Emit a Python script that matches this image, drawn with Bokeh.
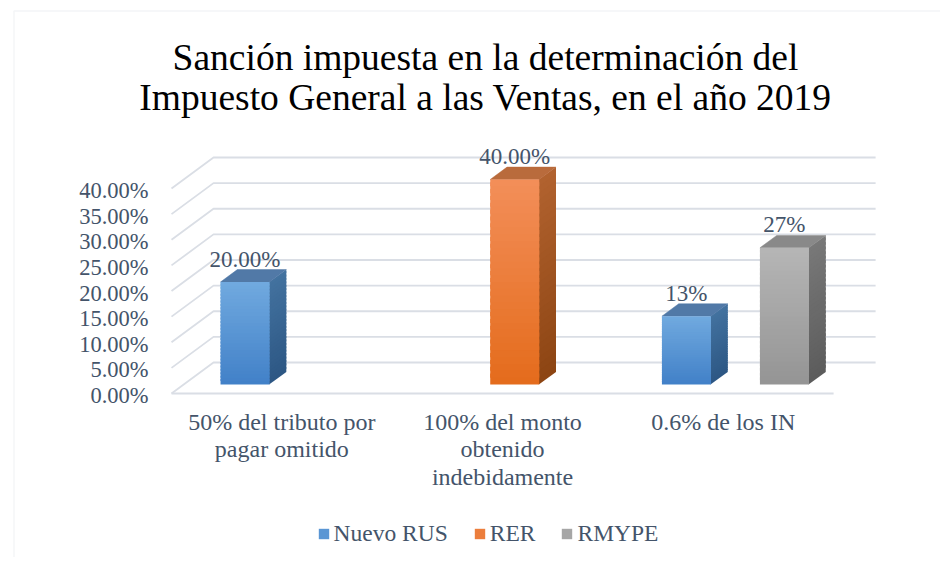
from bokeh.plotting import figure
from bokeh.models import Legend, LegendItem, BoxAnnotation, Range1d, ColumnDataSource
from bokeh.embed import file_html
from bokeh.resources import INLINE
from bokeh.core.properties import value

# ---------------- data ----------------
title_lines = ["Sanción impuesta en la determinación del",
               "Impuesto General a las Ventas, en el año 2019"]
categories = ["50% del tributo por\npagar omitido",
              "100% del monto\nobtenido\nindebidamente",
              "0.6% de los IN"]
series_names = ["Nuevo RUS", "RER", "RMYPE"]
nuevo_rus = [0.20, None, 0.1333]
rer = [None, 0.40, None]
rmype = [None, None, 0.2667]
nuevo_rus_labels = ["20.00%", None, "13%"]
rer_labels = [None, "40.00%", None]
rmype_labels = [None, None, "27%"]
y_ticks = [0.0, 0.05, 0.10, 0.15, 0.20, 0.25, 0.30, 0.35, 0.40]
y_tick_labels = ["0.00%", "5.00%", "10.00%", "15.00%", "20.00%",
                 "25.00%", "30.00%", "35.00%", "40.00%"]

# ---------------- style / layout ----------------
FONT = "Liberation Serif"
TXT = "#44546a"
GRID = "#dadee5"
# (front top, front bottom, side top, side bottom, top face, legend)
PALETTE = [
    ("#70a9df", "#4281c8", "#43729f", "#2d5784", "#5179a7", "#5b9bd5"),
    ("#f38e58", "#e46c1d", "#b1622f", "#8d4513", "#b96b3c", "#ed7d31"),
    ("#b5b5b5", "#959595", "#787878", "#5c5c5c", "#898989", "#a5a5a5"),
]
W, H = 940, 557
OFF_X, OFF_Y = 0, 0          # page offset of the figure
X0_PX, Y0_PX = 171, 393      # pixel position of the front-left floor corner
PX_CAT = 220.7               # pixels per category
PX_Y = 512.5                 # pixels per unit (100%)
DX = 42 / PX_CAT             # depth offset (x) of the floor
DY = 31 / PX_Y               # depth offset (y) of the floor
D0, D1 = 0.29, 0.69          # bar front/back depth
BW = 49 / PX_CAT             # bar width
N = 30                       # gradient slices


def sx2d(sx):
    return (sx - X0_PX) / PX_CAT


def sy2d(sy):
    return (Y0_PX - sy) / PX_Y


def hex2rgb(h):
    h = h.lstrip("#")
    return [int(h[i:i + 2], 16) for i in (0, 2, 4)]


def lerp(c1, c2, t):
    a, b = hex2rgb(c1), hex2rgb(c2)
    return "#%02x%02x%02x" % tuple(int(round(a[i] + (b[i] - a[i]) * t)) for i in range(3))


p = figure(width=W, height=H, output_backend="svg", toolbar_location=None,
           x_range=Range1d(sx2d(OFF_X), sx2d(OFF_X + W)),
           y_range=Range1d(sy2d(OFF_Y + H), sy2d(OFF_Y)),
           x_axis_type=None, y_axis_type=None,
           min_border=0)
p.title.visible = False
p.xgrid.visible = False
p.ygrid.visible = False
p.outline_line_color = None
p.background_fill_color = "white"
p.border_fill_color = "white"

# ---------- chart border ----------
p.add_layout(BoxAnnotation(left=sx2d(13.5), right=sx2d(1000), top=sy2d(10.5), bottom=sy2d(700),
                           fill_alpha=0, line_color=GRID, line_width=1.5))

# ---------- back wall / floor gridlines ----------
ncat = len(categories)
gx, gy = [], []
for t in y_ticks:
    gx.append([0, DX, ncat + DX])
    gy.append([t, t + DY, t + DY])
gx.append([0, ncat])
gy.append([y_ticks[0], y_ticks[0]])
p.multi_line(xs=gx, ys=gy, line_color=GRID, line_width=1.8)

# y tick labels (front plane)
p.text(x=[0] * len(y_ticks), y=y_ticks, text=y_tick_labels, text_font=value(FONT),
       text_font_size="22.5px", text_color=TXT, text_align="right",
       text_baseline="middle", x_offset=-23, y_offset=2)

# category labels
p.text(x=[i + 0.5 for i in range(ncat)], y=[0] * ncat, text=categories,
       text_font=value(FONT), text_font_size="24px", text_color=TXT,
       text_align="center", text_baseline="top", text_line_height=1.07, y_offset=15)

# ---------- 3D bars ----------
all_series = [(nuevo_rus, nuevo_rus_labels), (rer, rer_labels), (rmype, rmype_labels)]
offsets = [-BW, 0.0, BW]
lab_x, lab_y, lab_t = [], [], []
legend_items = []
for s_idx, (vals, labs) in enumerate(all_series):
    ft, fb, st, sb, tp, lc = PALETTE[s_idx]
    front = dict(left=[], right=[], top=[], bottom=[], color=[])
    side = dict(xs=[], ys=[], color=[])
    top = dict(xs=[], ys=[])
    for c_idx, v in enumerate(vals):
        if v is None:
            continue
        cx = c_idx + 0.5 + offsets[s_idx]
        xl0 = cx - BW / 2 + D0 * DX
        xr0 = cx + BW / 2 + D0 * DX
        yb0 = D0 * DY
        yt0 = v + D0 * DY
        ddx = (D1 - D0) * DX
        ddy = (D1 - D0) * DY
        step = (yt0 - yb0) / N
        for i in range(N):
            y_lo = yb0 + step * i
            y_hi = yb0 + step * (i + 1) + (step * 0.6 if i < N - 1 else 0)
            tt = i / (N - 1)
            front["left"].append(xl0)
            front["right"].append(xr0)
            front["bottom"].append(y_lo)
            front["top"].append(y_hi)
            front["color"].append(lerp(fb, ft, tt))
            side["xs"].append([xr0 - 0.002, xr0 + ddx, xr0 + ddx, xr0 - 0.002])
            side["ys"].append([y_lo, y_lo + ddy, y_hi + ddy, y_hi])
            side["color"].append(lerp(sb, st, tt))
        top["xs"].append([xl0, xr0, xr0 + ddx, xl0 + ddx])
        top["ys"].append([yt0, yt0, yt0 + ddy, yt0 + ddy])
        lab_x.append((xl0 + xr0) / 2)
        lab_y.append(yt0)
        lab_t.append(labs[c_idx])
    p.patches(xs="xs", ys="ys", source=ColumnDataSource(side),
              fill_color="color", line_color=None)
    p.patches(xs=top["xs"], ys=top["ys"], fill_color=tp, line_color=tp, line_width=0.5)
    fr = p.quad(left="left", right="right", top="top", bottom="bottom",
                source=ColumnDataSource(front), fill_color="color", line_color=None)
    legend_items.append(LegendItem(label=series_names[s_idx], renderers=[fr], index=N // 2))

# data labels
p.text(x=lab_x, y=lab_y, text=lab_t, text_font=value(FONT), text_font_size="23px",
       text_color=TXT, text_align="center", text_baseline="middle", y_offset=-23)

# ---------- title ----------
p.text(x=[sx2d(485)] * 2, y=[sy2d(57), sy2d(97)], text=title_lines,
       text_font=value(FONT), text_font_size="37.5px", text_color="black",
       text_align="center", text_baseline="middle")

# ---------- legend ----------
legend = Legend(items=legend_items, orientation="horizontal",
                location=(316.5 - OFF_X, OFF_Y + H - 547),
                glyph_width=13, glyph_height=13, label_standoff=4, spacing=25,
                padding=0, margin=0, border_line_color=None, background_fill_alpha=0,
                label_text_font=FONT, label_text_font_size="23.5px",
                label_text_color=TXT)
p.add_layout(legend, "center")

open("out.html", "w").write(file_html(p, INLINE))
